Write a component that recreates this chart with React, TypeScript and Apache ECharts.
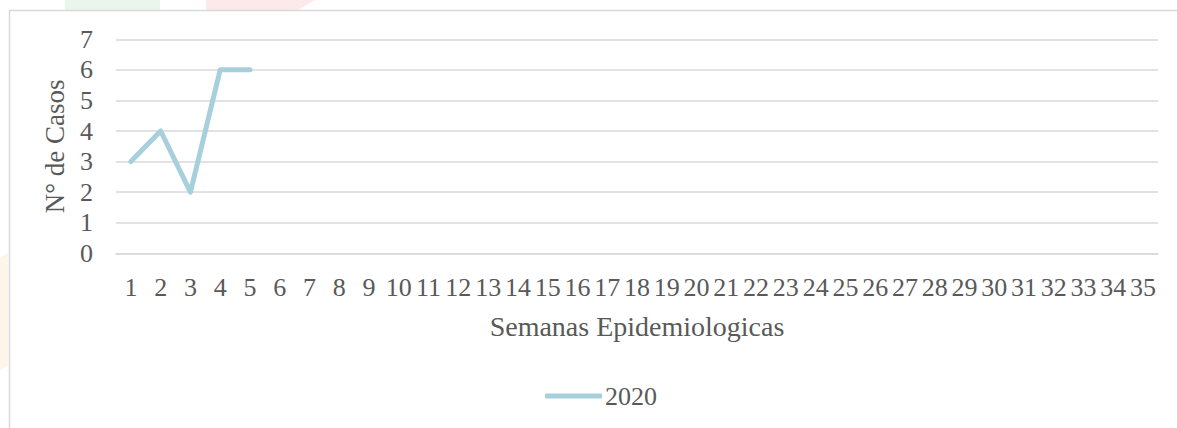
import React, { useEffect, useRef } from "react";
import * as echarts from "echarts";

const weeks: string[] = Array.from({ length: 35 }, (_, i) => String(i + 1));
const cases2020: number[] = [3, 4, 2, 6, 6];
const seriesName = "2020";
const yTitle = "N° de Casos";
const xTitle = "Semanas Epidemiologicas";

const FONT = "'Liberation Serif', 'DejaVu Serif', serif";
const TEXT = "#595959";
const GRID = "#D9D9D9";
const LINE = "#A8CFDC";

export default function App() {
  const ref = useRef<HTMLDivElement>(null);
  useEffect(() => {
    if (!ref.current) return;
    const chart = echarts.init(ref.current, undefined, { renderer: "svg" });
    chart.setOption({
      animation: false,
      backgroundColor: "#ffffff",
      textStyle: { fontFamily: FONT },
      graphic: [
        { type: "polygon", silent: true, z: -10, shape: { points: [[65, 0], [160, 0], [160, 10], [65, 10]] }, style: { fill: "#EAF5EC" } },
        { type: "polygon", silent: true, z: -10, shape: { points: [[206, 0], [315, 0], [298, 10], [206, 10]] }, style: { fill: "#FCEAEA" } },
        { type: "polygon", silent: true, z: -10, shape: { points: [[0, 258], [8, 253], [8, 366], [0, 370]] }, style: { fill: "#FEF5EA" } },
        { type: "rect", silent: true, z: -5, shape: { x: 9.5, y: 10.5, width: 1200, height: 500 }, style: { fill: "none", stroke: GRID, lineWidth: 1.5 } },
      ],
      grid: { left: 116, right: 19, top: 39.3, bottom: 174.7, containLabel: false },
      legend: {
        top: 383,
        left: 545,
        padding: 0,
        icon: "roundRect",
        itemWidth: 57,
        itemHeight: 5,
        itemGap: 10,
        data: [seriesName],
        textStyle: { color: TEXT, fontSize: 26, fontFamily: FONT, padding: [0, 0, 0, -2] },
      },
      xAxis: {
        type: "category",
        data: weeks,
        boundaryGap: true,
        axisLine: { show: true, lineStyle: { color: GRID, width: 1.5 } },
        axisTick: { show: false },
        axisLabel: { interval: 0, color: TEXT, fontSize: 26, fontFamily: FONT, margin: 21 },
        name: xTitle,
        nameLocation: "middle",
        nameGap: 59,
        nameTextStyle: { color: TEXT, fontSize: 28, fontFamily: FONT },
      },
      yAxis: {
        type: "value",
        min: 0,
        max: 7,
        interval: 1,
        axisLine: { show: false },
        axisTick: { show: false },
        splitLine: { show: true, lineStyle: { color: GRID, width: 1.5 } },
        axisLabel: { color: TEXT, fontSize: 26, fontFamily: FONT, margin: 23 },
        name: yTitle,
        nameLocation: "middle",
        nameRotate: 90,
        nameGap: 48,
        nameTextStyle: { color: TEXT, fontSize: 27, fontFamily: FONT },
      },
      series: [
        {
          name: seriesName,
          type: "line",
          data: cases2020,
          symbol: "none",
          lineStyle: { color: LINE, width: 5, cap: "round", join: "round" },
          itemStyle: { color: LINE },
        },
      ],
    });
    return () => chart.dispose();
  }, []);
  return (
    <div
      ref={ref}
      style={{ position: "absolute", left: 0, top: 0, width: 1177, height: 428 }}
    />
  );
}
